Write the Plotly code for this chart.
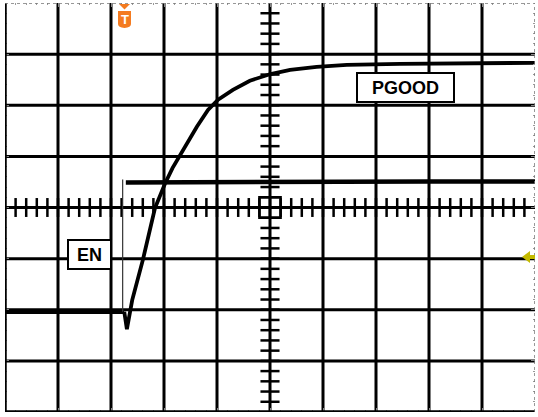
import plotly.graph_objects as go

# ---- data (time and voltage in screen divisions) ----
en_low_t = [0.0, 1.0, 2.0, 2.25]
en_low_v = [1.96, 1.96, 1.96, 1.96]
en_edge_t = [2.22, 2.22]
en_edge_v = [1.96, 4.55]
en_high_t = [2.28, 4.0, 6.0, 8.0, 10.0]
en_high_v = [4.49, 4.50, 4.50, 4.51, 4.51]

pgood_t = [2.25, 2.30, 2.40, 2.60, 2.83, 3.02, 3.16, 3.36, 3.62, 3.83, 4.02,
           4.30, 4.62, 5.01, 5.38, 5.88, 6.45, 7.45, 8.40, 10.0]
pgood_v = [1.96, 1.62, 2.19, 2.97, 3.99, 4.47, 4.77, 5.12, 5.58, 5.91, 6.11,
           6.30, 6.48, 6.61, 6.69, 6.75, 6.79, 6.81, 6.82, 6.83]

labels = ["EN", "PGOOD"]

W, H = 538, 417
L, R, T, B = 5, 3, 3, 5
PW, PH = W - L - R, H - T - B


def px2x(px):
    return (px - L) / PW * 10


def py2y(py):
    return (H - B - py) / PH * 8


fig = go.Figure()
fig.add_trace(go.Scatter(x=en_low_t, y=en_low_v, mode="lines",
                         line=dict(color="black", width=4.5), showlegend=False, hoverinfo="skip"))
fig.add_trace(go.Scatter(x=en_edge_t, y=en_edge_v, mode="lines",
                         line=dict(color="#333", width=1.2), showlegend=False, hoverinfo="skip"))
fig.add_trace(go.Scatter(x=en_high_t, y=en_high_v, mode="lines",
                         line=dict(color="black", width=4.5), showlegend=False, hoverinfo="skip"))
fig.add_trace(go.Scatter(x=pgood_t, y=pgood_v, mode="lines",
                         line=dict(color="black", width=3.8), showlegend=False, hoverinfo="skip"))

shapes = []
# grid
for i in range(1, 10):
    shapes.append(dict(type="line", xref="x", yref="y", x0=i, x1=i, y0=0, y1=8,
                       line=dict(color="black", width=3), layer="below"))
for j in range(1, 8):
    shapes.append(dict(type="line", xref="x", yref="y", x0=0, x1=10, y0=j, y1=j,
                       line=dict(color="black", width=3), layer="below"))
# center axis ticks
for k in range(1, 50):
    t = k * 0.2
    shapes.append(dict(type="line", xref="x", yref="y", x0=t, x1=t, y0=4 - 0.185, y1=4 + 0.185,
                       line=dict(color="black", width=2.5), layer="below"))
for k in range(1, 40):
    v = k * 0.2
    shapes.append(dict(type="line", xref="x", yref="y", x0=5 - 0.18, x1=5 + 0.18, y0=v, y1=v,
                       line=dict(color="black", width=2.5), layer="below"))
# center square
shapes.append(dict(type="rect", xref="x", yref="y", x0=4.8, x1=5.2, y0=3.8, y1=4.2,
                   line=dict(color="black", width=2.5), layer="below"))
# frame: thick left & bottom, dotted top & right
shapes.append(dict(type="line", xref="x", yref="y", x0=0, x1=0, y0=0, y1=8,
                   line=dict(color="black", width=3.5)))
shapes.append(dict(type="line", xref="x", yref="y", x0=0, x1=10, y0=0, y1=0,
                   line=dict(color="black", width=3.5)))
shapes.append(dict(type="line", xref="x", yref="y", x0=0, x1=10, y0=8, y1=8,
                   line=dict(color="#777", width=1.5, dash="dot")))
shapes.append(dict(type="line", xref="x", yref="y", x0=10, x1=10, y0=0, y1=8,
                   line=dict(color="#777", width=1.5, dash="dot")))

# trigger marker (orange)
orange = "#F47B20"
tri = f"M {px2x(119)},{py2y(4)} L {px2x(130)},{py2y(4)} L {px2x(124.5)},{py2y(9.5)} Z"
shapes.append(dict(type="path", xref="x", yref="y", path=tri, fillcolor=orange,
                   line=dict(color=orange, width=0)))
shield = (f"M {px2x(118)},{py2y(11)} L {px2x(131)},{py2y(11)} L {px2x(131)},{py2y(24)} "
          f"Q {px2x(131)},{py2y(27.5)} {px2x(124.5)},{py2y(28)} "
          f"Q {px2x(118)},{py2y(27.5)} {px2x(118)},{py2y(24)} Z")
shapes.append(dict(type="path", xref="x", yref="y", path=shield, fillcolor=orange,
                   line=dict(color=orange, width=0)))
# right offset marker (olive-yellow)
olive = "#C4BA00"
arrow = (f"M {px2x(522)},{py2y(257)} L {px2x(530)},{py2y(251)} L {px2x(530)},{py2y(255)} "
         f"L {px2x(536)},{py2y(255)} L {px2x(536)},{py2y(259)} L {px2x(530)},{py2y(259)} "
         f"L {px2x(530)},{py2y(263)} Z")
shapes.append(dict(type="path", xref="x", yref="y", path=arrow, fillcolor=olive,
                   line=dict(color=olive, width=0)))

annotations = [
    dict(x=px2x(124.5), y=py2y(19.5), xref="x", yref="y", text="<b>T</b>", showarrow=False,
         font=dict(family="Liberation Sans, Arial", size=13, color="white")),
    dict(x=px2x(89.2), y=py2y(254.7), xref="x", yref="y", text="<b>" + labels[0] + "</b>",
         showarrow=False, bgcolor="white", bordercolor="black", borderwidth=2, borderpad=0,
         width=41, height=27, font=dict(family="Liberation Sans, Arial", size=18, color="black")),
    dict(x=px2x(405), y=py2y(87.2), xref="x", yref="y", text="<b>" + labels[1] + "</b>",
         showarrow=False, bgcolor="white", bordercolor="black", borderwidth=2, borderpad=0,
         width=95, height=27, font=dict(family="Liberation Sans, Arial", size=18, color="black")),
]

axis_common = dict(showgrid=False, zeroline=False, showticklabels=False,
                   showline=False, ticks="inside", ticklen=4, tickcolor="#888", tickwidth=1,
                   mirror="ticks", dtick=1, tick0=0, fixedrange=True,
                   minor=dict(dtick=0.2, ticks="inside", ticklen=2, tickcolor="#999", tickwidth=1))

fig.update_layout(
    width=W, height=H,
    margin=dict(l=L, r=R, t=T, b=B),
    paper_bgcolor="white", plot_bgcolor="white",
    xaxis=dict(range=[0, 10], **axis_common),
    yaxis=dict(range=[0, 8], **axis_common),
    shapes=shapes, annotations=annotations,
)

fig.write_html("out.html", config={"displayModeBar": False},
               post_script="document.body.style.margin='0';document.body.style.overflow='hidden';")
